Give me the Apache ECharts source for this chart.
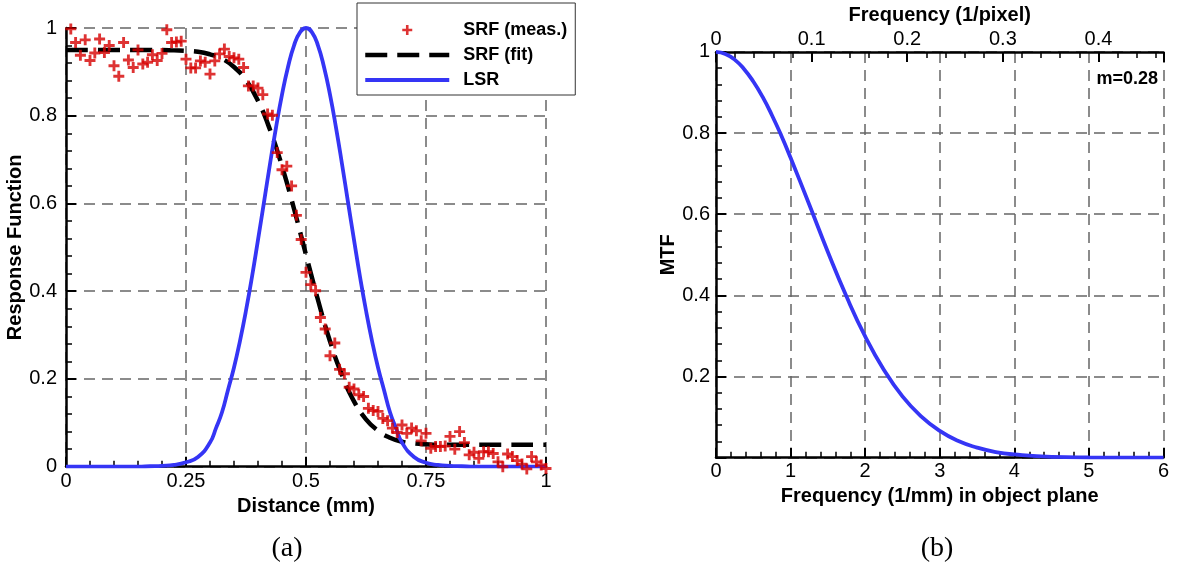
<!DOCTYPE html>
<html><head><meta charset="utf-8">
<script src="https://cdn.jsdelivr.net/npm/echarts@6/dist/echarts.min.js"></script>
<style>html,body{margin:0;padding:0;background:#fff}#c{width:1184px;height:575px}</style>
</head><body><div id="c"></div>
<script>
// ---- Panel (a): response functions vs distance (mm) ----
const measX = [0.01,0.02,0.03,0.04,0.05,0.06,0.07,0.08,0.09,0.10,0.11,0.12,0.13,0.14,0.15,0.16,0.17,0.18,0.19,0.20,
  0.21,0.22,0.23,0.24,0.25,0.26,0.27,0.28,0.29,0.30,0.31,0.32,0.33,0.34,0.35,0.36,0.37,0.38,0.39,0.40,
  0.41,0.42,0.43,0.44,0.45,0.46,0.47,0.48,0.49,0.50,0.51,0.52,0.53,0.54,0.55,0.56,0.57,0.58,0.59,0.60,
  0.61,0.62,0.63,0.64,0.65,0.66,0.67,0.68,0.69,0.70,0.71,0.72,0.73,0.74,0.75,0.76,0.77,0.78,0.79,0.80,
  0.81,0.82,0.83,0.84,0.85,0.86,0.87,0.88,0.89,0.90,0.91,0.92,0.93,0.94,0.95,0.96,0.97,0.98,0.99,1.00];
const measY = [0.998,0.967,0.938,0.973,0.926,0.943,0.975,0.944,0.960,0.914,0.890,0.967,0.927,0.910,0.950,0.918,0.922,0.939,0.926,0.942,
  0.996,0.967,0.968,0.970,0.929,0.909,0.909,0.925,0.922,0.895,0.925,0.941,0.952,0.935,0.932,0.929,0.910,0.868,0.868,0.863,
  0.848,0.804,0.801,0.716,0.677,0.685,0.640,0.573,0.518,0.443,0.415,0.401,0.340,0.314,0.253,0.282,0.222,0.212,0.181,0.177,
  0.164,0.160,0.133,0.128,0.126,0.110,0.105,0.088,0.078,0.095,0.076,0.088,0.082,0.059,0.076,0.042,0.046,0.046,0.047,0.069,
  0.040,0.080,0.055,0.027,0.033,0.019,0.034,0.034,0.030,0.011,0.000,0.029,0.023,0.014,0.006,-0.005,0.023,0.011,0.004,-0.004];

const fitX = [0,0.025,0.05,0.075,0.1,0.125,0.15,0.175,0.2,0.225,0.25,0.275,0.3,0.325,0.35,0.375,0.4,0.425,0.45,0.475,
  0.5,0.525,0.55,0.575,0.6,0.625,0.65,0.675,0.7,0.725,0.75,0.775,0.8,0.825,0.85,0.875,0.9,0.925,0.95,0.975,1.0];
const fitY = [0.95,0.95,0.95,0.95,0.95,0.95,0.95,0.95,0.95,0.949,0.948,0.946,0.940,0.930,0.911,0.881,0.834,0.768,0.685,0.588,
  0.483,0.380,0.286,0.209,0.149,0.108,0.082,0.066,0.057,0.053,0.051,0.050,0.050,0.050,0.050,0.050,0.050,0.050,0.050,0.050,0.050];

const lsrX = [0,0.05,0.1,0.15,0.175,0.2,0.225,0.25,0.275,0.3,0.3125,0.325,0.3375,0.35,0.3625,0.375,0.3875,0.4,0.4125,0.425,
  0.4375,0.45,0.4625,0.475,0.4875,0.5,0.5125,0.525,0.5375,0.55,0.5625,0.575,0.5875,0.6,0.6125,0.625,0.6375,0.65,0.6625,0.675,
  0.6875,0.7,0.725,0.75,0.775,0.8,0.825,0.85,0.9,0.95,1.0];
const lsrY = [0,0,0,0,0.001,0.002,0.004,0.010,0.022,0.055,0.088,0.124,0.175,0.226,0.287,0.356,0.433,0.517,0.603,0.690,
  0.773,0.848,0.911,0.960,0.990,1.0,0.990,0.960,0.911,0.848,0.773,0.690,0.603,0.517,0.433,0.356,0.287,0.226,0.175,0.124,
  0.088,0.055,0.022,0.009,0.004,0.002,0.001,0,0,0,0];

// ---- Panel (b): MTF vs frequency ----
const mtfX = [0,0.125,0.25,0.375,0.5,0.625,0.75,0.875,1,1.25,1.5,1.75,2,2.25,2.5,2.75,3,3.25,3.5,3.75,4,4.5,5,5.5,6];
const mtfY = [1.0,0.995,0.981,0.958,0.927,0.889,0.844,0.794,0.739,0.624,0.507,0.397,0.299,0.217,0.151,0.102,0.066,0.041,0.025,0.014,0.008,0.002,0.0005,0.0001,0];

const pixelFreqTicks = [0,0.1,0.2,0.3,0.4];
const legendNames = ['SRF (meas.)','SRF (fit)','LSR'];

const zip = (a,b) => a.map((v,i)=>[v,b[i]]);
const FONT = 'Liberation Sans';
const BLUE = '#3535f5';
const RED = '#d60000';
const PLUS = 'path://M3.7,0H6.3V3.7H10V6.3H6.3V10H3.7V6.3H0V3.7H3.7Z';

const axisLine = {show:true, onZero:false, lineStyle:{color:'#000', width:2.5}};
const tick = {show:true, inside:true, length:10, lineStyle:{color:'#000', width:2}};
const minor = (n)=>({show:true, splitNumber:n, length:6, lineStyle:{color:'#000', width:1.5}});
const grid = {show:true, lineStyle:{color:'#666', width:1.5, type:[11,7]}};
const lbl = (m, extra)=>Object.assign({fontFamily:FONT, fontSize:20, color:'#000', margin:m}, extra||{});
const nameStyle = {fontFamily:FONT, fontSize:20, fontWeight:'bold', color:'#000'};

const chart = echarts.init(document.getElementById('c'), null, {renderer:'canvas'});
chart.setOption({
  animation:false,
  backgroundColor:'#fff',
  grid:[{left:66, top:28, width:480, height:438.7},{left:716, top:48.3, width:447.5, height:409.4}],
  legend:{
    left:357, top:3, orient:'vertical', padding:[18,8,6,6],
    itemWidth:84, itemHeight:10, itemGap:7,
    backgroundColor:'#fff', borderColor:'#333', borderWidth:1, borderRadius:0,
    selectedMode:false,
    lineStyle:{width:'inherit', type:'inherit'},
    data:[
      {name:legendNames[0]},
      {name:legendNames[1], itemStyle:{opacity:0}},
      {name:legendNames[2], itemStyle:{opacity:0}}
    ],
    textStyle:{fontFamily:FONT, fontWeight:'bold', fontSize:18, color:'#000', lineHeight:14, padding:[0,0,0,9]}
  },
  xAxis:[
    {gridIndex:0, type:'value', min:0, max:1, interval:0.25, axisLine, axisTick:tick, minorTick:minor(5), splitLine:grid,
     axisLabel:lbl(5), name:'Distance (mm)', nameLocation:'middle', nameGap:28, nameTextStyle:nameStyle},
    {gridIndex:1, type:'value', min:0, max:6, interval:1, axisLine, axisTick:tick, minorTick:minor(5), splitLine:grid,
     axisLabel:lbl(4), name:'Frequency (1/mm) in object plane', nameLocation:'middle', nameGap:26, nameTextStyle:nameStyle},
    {gridIndex:1, type:'value', position:'top', min:0, max:0.468, interval:0.1, axisLine, axisTick:tick, minorTick:minor(5),
     splitLine:{show:false},
     axisLabel:lbl(2,{formatter:(v)=>pixelFreqTicks.some(t=>Math.abs(t-v)<1e-6)? String(v):''}),
     name:'Frequency (1/pixel)', nameLocation:'middle', nameGap:23, nameTextStyle:nameStyle}
  ],
  yAxis:[
    {gridIndex:0, type:'value', min:0, max:1, interval:0.2, axisLine, axisTick:tick, minorTick:minor(5), splitLine:grid,
     axisLabel:lbl(9), name:'Response Function', nameLocation:'middle', nameGap:35, nameTextStyle:nameStyle},
    {gridIndex:1, type:'value', min:0, max:1, interval:0.2, axisLine, axisTick:tick, minorTick:minor(5), splitLine:grid,
     axisLabel:lbl(6,{formatter:(v)=> v===0 ? '' : String(v)}), name:'MTF', nameLocation:'middle', nameGap:38, nameTextStyle:nameStyle}
  ],
  series:[
    {name:'SRF (fit)', type:'line', xAxisIndex:0, yAxisIndex:0, data:zip(fitX, fitY), symbol:'none', smooth:true,
     lineStyle:{color:'#000', width:4.5, type:[22,10]}, itemStyle:{color:'#000'}, z:2},
    {name:'LSR', type:'line', xAxisIndex:0, yAxisIndex:0, data:zip(lsrX, lsrY), symbol:'none', smooth:true,
     lineStyle:{color:BLUE, width:3.8}, itemStyle:{color:BLUE}, z:3},
    {name:'SRF (meas.)', type:'scatter', xAxisIndex:0, yAxisIndex:0, data:zip(measX, measY), symbol:PLUS, symbolSize:11,
     symbolKeepAspect:true, clip:false, itemStyle:{color:RED}, z:4},
    {name:'MTF', type:'line', xAxisIndex:1, yAxisIndex:1, data:zip(mtfX, mtfY), symbol:'none', smooth:true,
     lineStyle:{color:BLUE, width:3.8}, itemStyle:{color:BLUE}, z:3}
  ],
  graphic:[
    {type:'text', x:1158, y:79, style:{text:'m=0.28', font:'bold 18px "Liberation Sans"', align:'right', verticalAlign:'middle', fill:'#000'}},
    {type:'text', x:287, y:549, style:{text:'(a)', font:'28px "Liberation Serif"', align:'center', verticalAlign:'middle', fill:'#000'}},
    {type:'text', x:937, y:549, style:{text:'(b)', font:'28px "Liberation Serif"', align:'center', verticalAlign:'middle', fill:'#000'}}
  ]
});
</script></body></html>
